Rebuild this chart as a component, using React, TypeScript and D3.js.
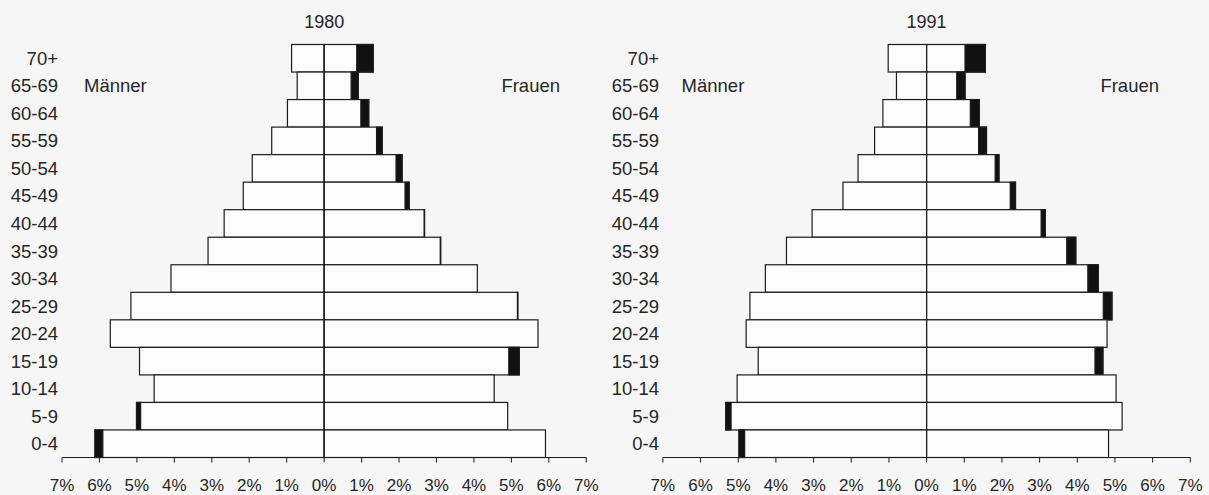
import React from "react";
import * as d3 from "d3";

const ageGroups = ["70+", "65-69", "60-64", "55-59", "50-54", "45-49", "40-44", "35-39", "30-34", "25-29", "20-24", "15-19", "10-14", "5-9", "0-4"];
const men1980 = [0.87, 0.72, 0.98, 1.40, 1.92, 2.16, 2.67, 3.10, 4.09, 5.16, 5.71, 4.93, 4.54, 5.01, 6.12];
const women1980 = [1.31, 0.91, 1.19, 1.55, 2.08, 2.27, 2.68, 3.11, 4.09, 5.17, 5.71, 5.21, 4.54, 4.90, 5.91];
const men1991 = [1.02, 0.80, 1.16, 1.38, 1.82, 2.22, 3.04, 3.72, 4.28, 4.69, 4.79, 4.47, 5.03, 5.33, 4.98];
const women1991 = [1.56, 1.02, 1.40, 1.59, 1.92, 2.36, 3.15, 3.96, 4.56, 4.92, 4.79, 4.68, 5.03, 5.19, 4.83];
const tickValues = [-7, -6, -5, -4, -3, -2, -1, 0, 1, 2, 3, 4, 5, 6, 7];
const maleLabel = "Männer";
const femaleLabel = "Frauen";

const FONT = "'Liberation Sans', Arial, Helvetica, sans-serif";
const INK = "#1c1c1c";
const TEXT = "#262626";

type PyramidProps = {
  title: string;
  men: number[];
  women: number[];
  x0: number;
  x1: number;
  labelX: number;
  maleX: number;
  femaleX: number;
};

function Pyramid({ title, men, women, x0, x1, labelX, maleX, femaleX }: PyramidProps) {
  const x = d3.scaleLinear().domain([-7, 7]).range([x0, x1]);
  const y = d3.scaleBand<string>().domain(ageGroups).range([44.5, 457.5]).padding(0);
  const bw = y.bandwidth();
  const axisY = 457.5;
  return (
    <g>
      <text x={x(0)} y={28} textAnchor="middle" fontSize={18} fill={TEXT} fontFamily={FONT}>{title}</text>
      {ageGroups.map((g, i) => {
        const m = men[i];
        const w = women[i];
        const mn = Math.min(m, w);
        const top = y(g)!;
        return (
          <g key={g}>
            <text x={labelX} y={top + bw / 2 + 6.5} textAnchor="end" fontSize={18.5} fill={TEXT} fontFamily={FONT}>{g}</text>
            <rect x={x(-m)} y={top} width={x(0) - x(-m)} height={bw} fill="#fcfcfc" stroke={INK} strokeWidth={1.2} />
            <rect x={x(0)} y={top} width={x(w) - x(0)} height={bw} fill="#fcfcfc" stroke={INK} strokeWidth={1.2} />
            {m > mn + 0.005 && (
              <rect x={x(-m)} y={top} width={x(-mn) - x(-m)} height={bw} fill="#111" stroke={INK} strokeWidth={1.2} />
            )}
            {w > mn + 0.005 && (
              <rect x={x(mn)} y={top} width={x(w) - x(mn)} height={bw} fill="#111" stroke={INK} strokeWidth={1.2} />
            )}
          </g>
        );
      })}
      <line x1={x(0)} x2={x(0)} y1={44.5} y2={axisY} stroke={INK} strokeWidth={1.1} />
      <line x1={x0} x2={x1} y1={axisY} y2={axisY} stroke={INK} strokeWidth={1.1} />
      {tickValues.map((t) => (
        <g key={t}>
          <line x1={x(t)} x2={x(t)} y1={axisY} y2={axisY + 5} stroke={INK} strokeWidth={1} />
          <text x={x(t)} y={491} textAnchor="middle" fontSize={17} fill={TEXT} fontFamily={FONT}>{`${Math.abs(t)}%`}</text>
        </g>
      ))}
      <text x={maleX} y={y("65-69")! + bw / 2 + 6.5} fontSize={18.5} fill={TEXT} fontFamily={FONT}>{maleLabel}</text>
      <text x={femaleX} y={y("65-69")! + bw / 2 + 6.5} textAnchor="end" fontSize={18.5} fill={TEXT} fontFamily={FONT}>{femaleLabel}</text>
    </g>
  );
}

export default function App() {
  return (
    <svg width={1209} height={495} style={{ position: "absolute", left: 0, top: 0, background: "#f6f6f6" }}>
      <rect x={0} y={0} width={1209} height={495} fill="#f6f6f6" />
      <Pyramid title="1980" men={men1980} women={women1980} x0={62} x1={586.3} labelX={58} maleX={84} femaleX={560} />
      <Pyramid title="1991" men={men1991} women={women1991} x0={662.9} x1={1190.3} labelX={659} maleX={681.6} femaleX={1159} />
    </svg>
  );
}
